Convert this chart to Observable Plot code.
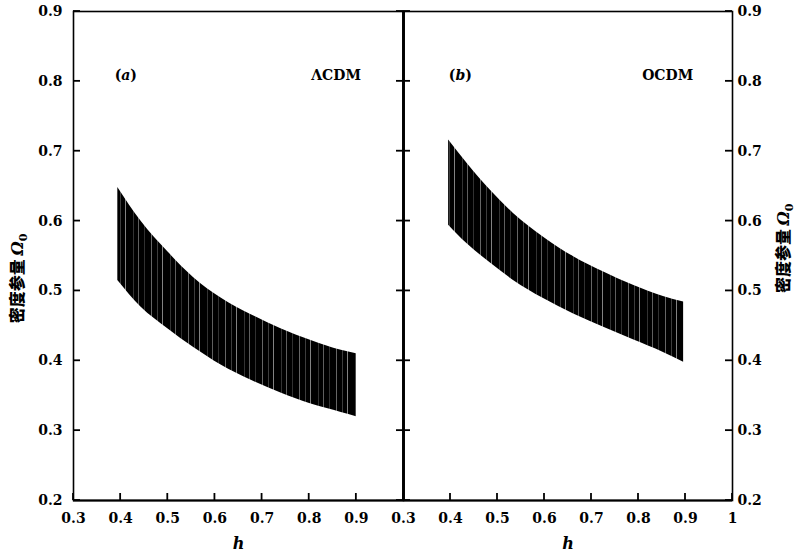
<!DOCTYPE html>
<html><head><meta charset="utf-8">
<script src="https://cdn.jsdelivr.net/npm/d3@7"></script>
<script src="https://cdn.jsdelivr.net/npm/@observablehq/plot@0.6"></script>
<style>
body{margin:0;background:#fff;}
#wrap{position:relative;width:795px;height:560px;background:#fff;}
#wrap svg{position:absolute;top:0;overflow:visible;background:transparent;}
</style></head><body><div id="wrap"></div>
<script>
// Panel (a) ΛCDM
const hA     = [0.394, 0.443, 0.500, 0.555, 0.613, 0.677, 0.740, 0.804, 0.868, 0.900];
const upperA = [0.648, 0.600, 0.556, 0.519, 0.490, 0.466, 0.446, 0.429, 0.415, 0.410];
const lowerA = [0.515, 0.477, 0.446, 0.419, 0.394, 0.372, 0.354, 0.338, 0.326, 0.320];
// Panel (b) OCDM
const hB     = [0.396, 0.436, 0.485, 0.534, 0.598, 0.662, 0.726, 0.789, 0.853, 0.896];
const upperB = [0.716, 0.682, 0.644, 0.611, 0.577, 0.549, 0.527, 0.508, 0.492, 0.484];
const lowerB = [0.594, 0.567, 0.540, 0.515, 0.489, 0.467, 0.448, 0.430, 0.412, 0.398];

const yTicks  = [0.2, 0.3, 0.4, 0.5, 0.6, 0.7, 0.8, 0.9];
const xTicksA = [0.3, 0.4, 0.5, 0.6, 0.7, 0.8, 0.9];
const xTicksB = [0.3, 0.4, 0.5, 0.6, 0.7, 0.8, 0.9, 1.0];
const yLabel = "密度参量 Ω0";
const xLabel = "h";

const SERIF = "DejaVu Serif";
const fmt = d => d === 1 ? "1" : d.toFixed(1);
const c = v => () => v;

function panel(o) {
  const data = o.h.map((h, i) => ({h, lo: o.lower[i], hi: o.upper[i]}));
  const marks = [
    Plot.areaY(data, {x: "h", y1: "lo", y2: "hi", fill: `url(#${o.id})`, curve: "monotone-x"}),
    Plot.frame({stroke: "#000", strokeWidth: 1.6}),
    Plot.ruleY([0.2], {stroke: "#000", strokeWidth: 2.2}),
    Plot.axisX({ticks: o.xTicks, tickSize: 0, tickPadding: 13, tickFormat: fmt, label: null,
      fontFamily: SERIF, fontWeight: "bold", fontSize: 14, fill: "#000"}),
    Plot.axisY({anchor: o.side, ticks: yTicks, tickSize: 0, tickPadding: o.side === "left" ? 11 : 5, label: null,
      tickFormat: d => d.toFixed(1), fontFamily: SERIF, fontWeight: "bold", fontSize: 14, fill: "#000"}),
    Plot.text([xLabel], {frameAnchor: "bottom", dy: 48, fontFamily: SERIF, fontStyle: "italic",
      fontWeight: "bold", fontSize: 16, fill: "#000"}),
    Plot.text([yLabel], {x: c(o.yLabX), y: c(o.yLabY), rotate: -90,
      fontFamily: "Noto Sans CJK SC", fontWeight: "900", fontSize: 16, fill: "#000"}),
    Plot.text([o.tag], {x: c(o.tagX), y: c(0.808), fontFamily: SERIF, fontWeight: "bold", fontSize: 14, fill: "#000"}),
    Plot.text([o.model], {x: c(o.modelX), y: c(0.808), fontFamily: SERIF, fontWeight: "bold", fontSize: 14, fill: "#000"})
  ];
  if (o.side === "left") marks.push(Plot.ruleX([1.0], {stroke: "#000", strokeWidth: 2.6}));
  else marks.push(Plot.ruleX([0.3], {stroke: "#000", strokeWidth: 2.6}));
  const svg = Plot.plot({
    width: o.width, height: 560,
    marginLeft: o.marginLeft, marginRight: o.marginRight, marginTop: 11, marginBottom: 60,
    x: {domain: [0.3, 1.0], axis: null},
    y: {domain: [0.2, 0.9], axis: null},
    style: {background: "transparent", overflow: "visible"},
    marks
  });
  // inward ticks drawn with the plot's own scales
  const sx = svg.scale("x"), sy = svg.scale("y");
  const g = d3.select(svg).append("g").attr("stroke", "#000").attr("stroke-width", 1.8);
  const xl = sx.apply(0.3), xr = sx.apply(1.0), yb = sy.apply(0.2);
  yTicks.forEach(v => {
    const y = sy.apply(v);
    g.append("line").attr("x1", xl).attr("x2", xl + 7).attr("y1", y).attr("y2", y);
    g.append("line").attr("x1", xr - 7).attr("x2", xr).attr("y1", y).attr("y2", y);
  });
  o.xTicks.forEach(v => {
    const x = sx.apply(v);
    g.append("line").attr("x1", x).attr("x2", x).attr("y1", yb).attr("y2", yb - 7);
  });
  // hatch pattern (dense vertical lines with sparse light streaks)
  const defs = d3.select(svg).insert("defs", ":first-child");
  const pat = defs.append("pattern").attr("id", o.id).attr("patternUnits", "userSpaceOnUse")
    .attr("width", 37).attr("height", 6);
  pat.append("rect").attr("width", 37).attr("height", 6).attr("fill", "#000");
  [[3, 0.5, 0.8], [9.5, 0.4, 0.6], [14, 0.6, 0.85], [22, 0.4, 0.5], [27.5, 0.5, 0.75], [33, 0.35, 0.55]].forEach(([x, w, op]) =>
    pat.append("rect").attr("x", x).attr("width", w).attr("height", 6).attr("fill", "#fff").attr("opacity", op));
  // rich text
  svg.querySelectorAll("text").forEach(t => {
    if (t.textContent === yLabel) {
      t.innerHTML = `密度参量 <tspan font-family="${SERIF}" font-style="italic">Ω</tspan><tspan font-family="${SERIF}" font-size="11" dy="4">0</tspan>`;
    } else if (t.textContent === o.tag) {
      const ch = o.tag.slice(1, 2);
      t.innerHTML = `(<tspan font-style="italic">${ch}</tspan>)`;
    }
  });
  svg.style.left = o.left + "px";
  return svg;
}

const wrap = document.getElementById("wrap");
wrap.appendChild(panel({id: "hatchA", h: hA, upper: upperA, lower: lowerA, xTicks: xTicksA,
  left: 0, width: 403, marginLeft: 73, marginRight: 0, side: "left", yLabX: 0.183, yLabY: 0.518,
  tag: "(a)", model: "ΛCDM", tagX: 0.411, modelX: 0.857}));
wrap.appendChild(panel({id: "hatchB", h: hB, upper: upperB, lower: lowerB, xTicks: xTicksB,
  left: 403, width: 392, marginLeft: 0, marginRight: 63, side: "right", yLabX: 1.1085, yLabY: 0.561,
  tag: "(b)", model: "OCDM", tagX: 0.421, modelX: 0.862}));
</script></body></html>
